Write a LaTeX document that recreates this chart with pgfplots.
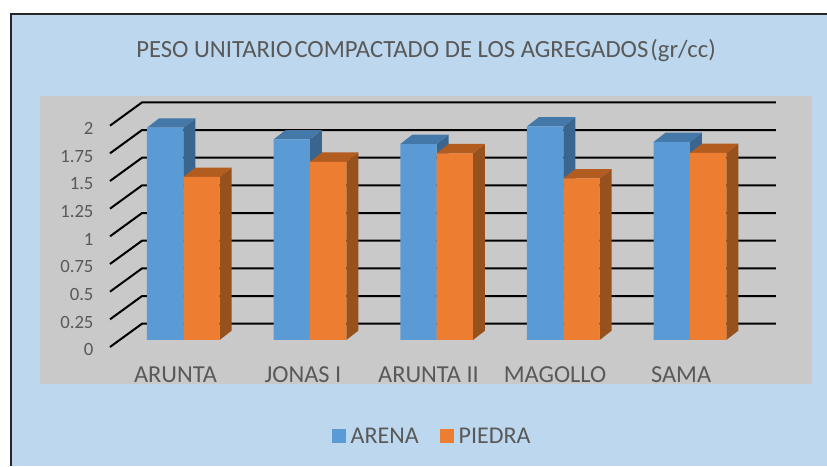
\documentclass[border=0pt]{standalone}
\usepackage{fontspec}
\setmainfont{Carlito}
\usepackage{pgfplots}
\pgfplotsset{compat=1.18}
\definecolor{bgblue}{HTML}{BDD7EE}
\definecolor{panel}{HTML}{C9C9C9}
\definecolor{txt}{HTML}{595959}
\definecolor{bluef}{HTML}{5B9BD5}
\definecolor{bluet}{HTML}{4478A8}
\definecolor{blues}{HTML}{39658E}
\definecolor{orangef}{HTML}{ED7D31}
\definecolor{oranget}{HTML}{B25C20}
\definecolor{oranges}{HTML}{96511C}
% x left, x right, value, side colour, top colour
\newcommand\depthfaces[5]{%
  \pgfmathsetmacro\xa{#1+0.0947}\pgfmathsetmacro\xb{#2+0.0947}\pgfmathsetmacro\vt{#3+0.0843}%
  \addplot[fill=#4,draw=none,forget plot] coordinates {(#2,#3) (\xb,\vt) (\xb,0.0843) (#2,0)} --cycle;%
  \addplot[fill=#5,draw=none,forget plot] coordinates {(#1,#3) (\xa,\vt) (\xb,\vt) (#2,#3)} --cycle;%
}
\begin{document}
\begin{tikzpicture}[x=1pt,y=1pt]
\path[use as bounding box] (0,0) rectangle (827,466);
\fill[white] (0,0) rectangle (827,466);
\fill[bgblue] (10,0) rectangle (827,452);
\draw[black!85,line width=2pt] (11,0) -- (11,452) -- (827,452);
\node[txt,font=\fontsize{24.7}{28}\selectfont,anchor=base] at (426,408.5) {PESO UNITARIO\hspace{0.08em}COMPACTADO DE LOS AGREGADOS\hspace{0.08em}(gr/cc)};
\begin{axis}[
  at={(40pt,82.3pt)},anchor=south west,
  scale only axis,width=772pt,height=287.7pt,
  xmin=-1.1313,xmax=4.9633,ymin=-0.3949,ymax=2.2048,
  axis background/.style={fill=panel},
  axis line style={draw=none},
  major tick length=0pt,
  clip=false,
  ytick={0,0.25,0.5,0.75,1,1.25,1.5,1.75,2},
  yticklabels={0,0.25,0.5,0.75,1,1.25,1.5,1.75,2},
  y tick label style={txt,font=\fontsize{18.7}{21}\selectfont,anchor=east,xshift=57pt,yshift=-9.8pt},
  xtick={-0.0616,0.945,1.936,2.935,3.93},
  xticklabels={ARUNTA,JONAS I,ARUNTA II,MAGOLLO,SAMA},
  x tick label style={txt,font=\fontsize{24.4}{28}\selectfont,anchor=base,yshift=1pt},
  legend style={draw=none,fill=none,at={(0.3736,-0.182)},anchor=west,legend columns=2,
    font=\fontsize{24}{28}\selectfont,text=txt,
    /tikz/every even column/.append style={column sep=19pt}},
  legend image code/.code={\fill[#1] (0pt,-7pt) rectangle (14pt,7pt);},
]
% gridlines and floor ticks
\addplot[black,line width=2pt,forget plot] coordinates {(-0.5787,-0.0633) (-0.326,0.147) (4.679,0.147)};
\addplot[black,line width=2pt,forget plot] coordinates {(-0.5787,0.1867) (-0.326,0.397) (4.679,0.397)};
\addplot[black,line width=2pt,forget plot] coordinates {(-0.5787,0.4367) (-0.326,0.647) (4.679,0.647)};
\addplot[black,line width=2pt,forget plot] coordinates {(-0.5787,0.6867) (-0.326,0.897) (4.679,0.897)};
\addplot[black,line width=2pt,forget plot] coordinates {(-0.5787,0.9367) (-0.326,1.147) (4.679,1.147)};
\addplot[black,line width=2pt,forget plot] coordinates {(-0.5787,1.1867) (-0.326,1.397) (4.679,1.397)};
\addplot[black,line width=2pt,forget plot] coordinates {(-0.5787,1.4367) (-0.326,1.647) (4.679,1.647)};
\addplot[black,line width=2pt,forget plot] coordinates {(-0.5787,1.6867) (-0.326,1.897) (4.679,1.897)};
\addplot[black,line width=2pt,forget plot] coordinates {(-0.5787,1.9367) (-0.326,2.147) (4.679,2.147)};
% depth faces
\depthfaces{-0.2868}{0}{1.918}{blues}{bluet}
\depthfaces{0}{0.2868}{1.473}{oranges}{oranget}
\depthfaces{0.7132}{1}{1.813}{blues}{bluet}
\depthfaces{1}{1.2868}{1.61}{oranges}{oranget}
\depthfaces{1.7132}{2}{1.771}{blues}{bluet}
\depthfaces{2}{2.2868}{1.687}{oranges}{oranget}
\depthfaces{2.7132}{3}{1.93}{blues}{bluet}
\depthfaces{3}{3.2868}{1.46}{oranges}{oranget}
\depthfaces{3.7132}{4}{1.79}{blues}{bluet}
\depthfaces{4}{4.2868}{1.69}{oranges}{oranget}
% front faces
\addplot[ybar,bar width=36.33pt,bar shift=-18.17pt,fill=bluef,draw=none] coordinates {(0,1.918) (1,1.813) (2,1.771) (3,1.93) (4,1.79)};
\addplot[ybar,bar width=36.33pt,bar shift=18.17pt,fill=orangef,draw=none] coordinates {(0,1.473) (1,1.61) (2,1.687) (3,1.46) (4,1.69)};
\legend{\hspace{3pt}ARENA,\hspace{3pt}PIEDRA}
\end{axis}
\end{tikzpicture}
\end{document}
